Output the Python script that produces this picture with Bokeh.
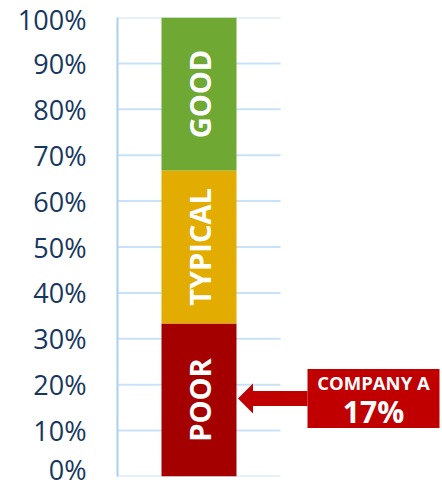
import math
from bokeh.plotting import figure
from bokeh.models import Range1d, FixedTicker, PrintfTickFormatter
from bokeh.core.properties import value
from bokeh.embed import file_html
from bokeh.resources import INLINE

# ---- data ----
categories = ["POOR", "TYPICAL", "GOOD"]
band_sizes = [100 / 3, 100 / 3, 100 / 3]
band_colors = ["#A50000", "#E2AC00", "#6FA833"]
tick_values = [0, 10, 20, 30, 40, 50, 60, 70, 80, 90, 100]
company_name = "COMPANY A"
company_value = 17

# ---- layout constants (pixels) ----
W, H = 442, 487
LEFT, TOP, BOTTOM = 117, 17, 11
frame_w = W - LEFT
frame_h = H - TOP - BOTTOM
ppp = frame_h / 100.0  # pixels per percent

bar_center, bar_width = 81.5, 75
grid_end = 163
box_left, box_right = 190, 322
box_half_h = 29.5 / ppp

p = figure(width=W, height=H, output_backend="svg", toolbar_location=None,
           x_range=Range1d(0, frame_w), y_range=Range1d(0, 100),
           x_axis_location=None,
           min_border_left=LEFT, min_border_right=0,
           min_border_top=TOP, min_border_bottom=BOTTOM)
p.grid.visible = False
p.outline_line_color = None
p.background_fill_color = "white"

ax = p.yaxis[0]
ax.ticker = FixedTicker(ticks=tick_values)
ax.formatter = PrintfTickFormatter(format="%d%%")
ax.axis_line_color = "#A9D0F2"
ax.axis_line_width = 2
ax.major_tick_line_color = None
ax.minor_tick_line_color = None
ax.major_tick_out = 0
ax.major_tick_in = 0
ax.major_label_standoff = 31
ax.major_label_text_font = "Open Sans"
ax.major_label_text_font_size = "27px"
ax.major_label_text_color = "#17375E"

# gridlines (short, only across the bar area)
p.segment(x0=[0] * len(tick_values), x1=[grid_end] * len(tick_values),
          y0=tick_values, y1=tick_values, line_color="#C9E2F7", line_width=2)

# stacked bands
bottoms, tops, mids = [], [], []
acc = 0
for s in band_sizes:
    bottoms.append(acc)
    tops.append(acc + s)
    mids.append(acc + s / 2)
    acc += s
p.vbar(x=[bar_center] * 3, bottom=bottoms, top=tops, width=bar_width,
       fill_color=band_colors, line_color=None)
p.text(x=[bar_center] * 3, y=mids, text=categories, angle=math.pi / 2,
       text_align="center", text_baseline="middle", text_color="white",
       text_font=value("Open Sans"), text_font_style="bold", text_font_size="29px")

# arrow pointing to company value
red = "#C00000"
tip_x, head_back = bar_center + bar_width / 2 + 1.5, bar_center + bar_width / 2 + 16.5
p.patch(x=[tip_x, head_back, head_back],
        y=[company_value, company_value + 15 / ppp, company_value - 15 / ppp],
        fill_color=red, line_color=None)
p.quad(left=[head_back - 1], right=[box_left], top=[company_value + 7.5 / ppp],
       bottom=[company_value - 7.5 / ppp], fill_color=red, line_color=None)

# callout box
p.quad(left=[box_left], right=[box_right], top=[company_value + box_half_h],
       bottom=[company_value - box_half_h], fill_color=red, line_color=None)
box_cx = (box_left + box_right) / 2
p.text(x=[box_cx], y=[company_value + 15.5 / ppp], text=[company_name],
       text_align="center", text_baseline="middle", text_color="white",
       text_font=value("Open Sans"), text_font_style="bold", text_font_size="18.5px")
p.text(x=[box_cx], y=[company_value - 13.5 / ppp], text=["%d%%" % company_value],
       text_align="center", text_baseline="middle", text_color="white",
       text_font=value("Open Sans"), text_font_style="bold", text_font_size="30px")

open("out.html", "w").write(file_html(p, INLINE))
